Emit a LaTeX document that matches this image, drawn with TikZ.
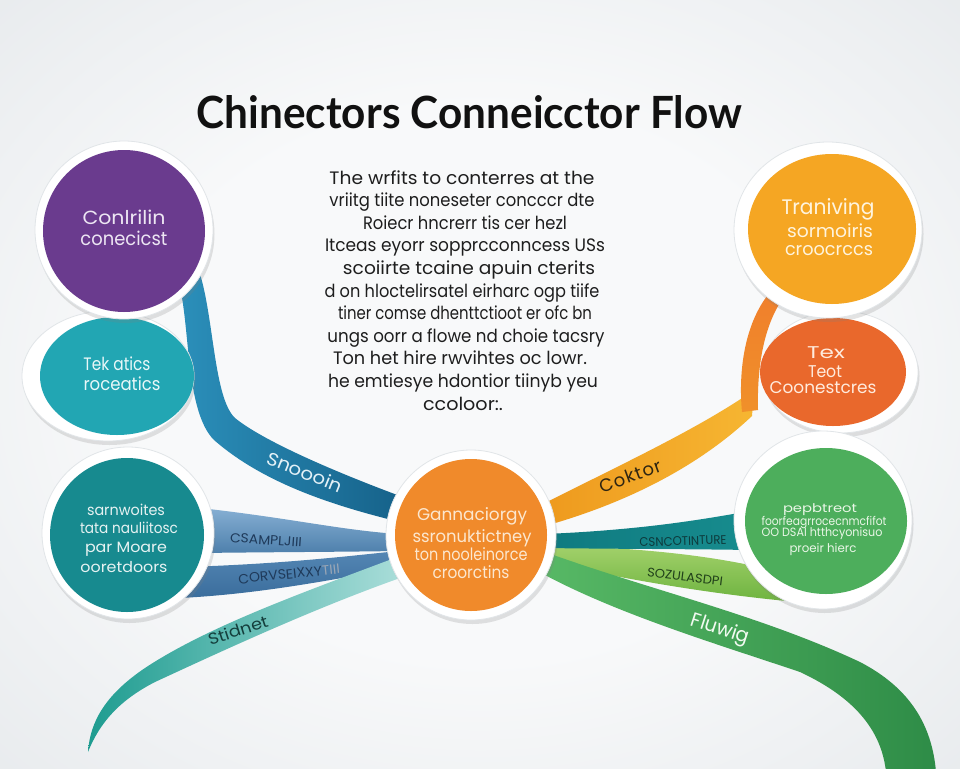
\documentclass[tikz,border=0pt]{standalone}
\usepackage{fontspec}
\usepackage{graphicx}
\setmainfont{Poppins}
\newfontfamily\titlefont{Lato}
\newfontfamily\spacedfont[LetterSpace=6]{Poppins}
\usetikzlibrary{shapes.geometric,shadows}

\definecolor{bgIn}{HTML}{F8F9FA}
\definecolor{bgOut}{HTML}{C6CDD3}
\definecolor{cPurple}{HTML}{6A3B8E}
\definecolor{cTeal}{HTML}{22A6B3}
\definecolor{cDTeal}{HTML}{178A8F}
\definecolor{cOrange}{HTML}{F08A2B}
\definecolor{cGold}{HTML}{F5A623}
\definecolor{cRed}{HTML}{E9682C}
\definecolor{cGreen}{HTML}{4DAE5C}
\definecolor{ribA1}{HTML}{2B8FBA}
\definecolor{ribA2}{HTML}{16628A}
\definecolor{ribB1}{HTML}{86AFD3}
\definecolor{ribB2}{HTML}{4E80AC}
\definecolor{ribC1}{HTML}{5486B4}
\definecolor{ribC2}{HTML}{3A6D9C}
\definecolor{ribD1}{HTML}{1E9C90}
\definecolor{ribD2}{HTML}{A9DDD9}
\definecolor{ribE1}{HTML}{57B865}
\definecolor{ribE2}{HTML}{2E8C47}
\definecolor{ribF1}{HTML}{A3D16B}
\definecolor{ribF2}{HTML}{6DB33F}
\definecolor{ribG1}{HTML}{0F7A80}
\definecolor{ribG2}{HTML}{178C8E}
\definecolor{ribH1}{HTML}{EE9A1E}
\definecolor{ribH2}{HTML}{F6B632}
\definecolor{ribI1}{HTML}{F07F2C}
\definecolor{ribI2}{HTML}{F0902A}
\definecolor{ringEdge}{HTML}{E1E5E8}
\definecolor{bodyText}{HTML}{1E1E1E}
\definecolor{titleC}{HTML}{111111}
\definecolor{tPurple}{HTML}{EDE6F3}
\definecolor{tTeal}{HTML}{E8F7F8}
\definecolor{tDTeal}{HTML}{E6F2F2}
\definecolor{tOrange}{HTML}{FCE7CF}
\definecolor{tGold}{HTML}{FFF4DD}
\definecolor{tRed}{HTML}{FFEBDD}
\definecolor{tGreen}{HTML}{E9F6E6}
\definecolor{lA}{HTML}{E3F1F7}
\definecolor{lB}{HTML}{1F3A5A}
\definecolor{lD}{HTML}{143E3C}
\definecolor{lH}{HTML}{2E2512}
\definecolor{lG}{HTML}{0D3A3C}
\definecolor{lF}{HTML}{20401A}
\definecolor{lE}{HTML}{F1FAF1}

\pgfdeclareradialshading{bgshade}{\pgfpoint{0bp}{0bp}}{color(0bp)=(bgIn); color(18bp)=(bgIn); color(75bp)=(bgOut)}

\newcommand{\fitw}[2]{\resizebox{#1pt}{\height}{#2}}

\begin{document}
\begin{tikzpicture}[x=1pt,y=-1pt,
  ring/.style={fill=white, draw=ringEdge, line width=0.8pt, inner sep=0pt,
    drop shadow={opacity=0.22, shadow xshift=1.5pt, shadow yshift=-4pt}},
  disc/.style={inner sep=0pt, draw=none},
  cline/.style={anchor=base, inner sep=0pt},
  rlabel/.style={inner sep=0pt},
  bodyline/.style={anchor=base, inner sep=0pt, text=bodyText, font=\fontsize{18}{20}\selectfont}]
\useasboundingbox (0,0) rectangle (960,768);
\shade[shading=bgshade] (0,0) rectangle (960,768);

% ---- ribbons ----
\shade[top color=ribC1, bottom color=ribC2] (185,567) .. controls (280,564) and (340,557) .. (398,551) -- (398,568) .. controls (330,580) and (260,594) .. (180,598) -- cycle;
\shade[top color=ribB1, bottom color=ribB2] (200,508) .. controls (290,518) and (340,530) .. (398,534) -- (398,551) .. controls (330,552) and (280,552) .. (200,553) -- cycle;
\shade[left color=ribA1, right color=ribA2] (180,288) .. controls (190,330) and (186,412) .. (214,440) .. controls (262,482) and (330,505) .. (400,522) -- (400,496) .. controls (330,470) and (262,440) .. (235,418) .. controls (214,398) and (214,320) .. (200,274) -- cycle;
\shade[left color=ribD1, right color=ribD2] (400,556) .. controls (310,590) and (210,625) .. (145,668) .. controls (105,695) and (90,722) .. (88,752) .. controls (100,722) and (120,700) .. (155,682) .. controls (220,652) and (310,610) .. (400,578) -- cycle;
\shade[top color=ribF1, bottom color=ribF2] (545,545) .. controls (640,548) and (720,555) .. (790,575) -- (797,602) .. controls (710,594) and (630,580) .. (545,562) -- cycle;
\shade[left color=ribG1, right color=ribG2] (545,534) .. controls (640,530) and (700,520) .. (750,511) -- (750,550) .. controls (690,549) and (620,549) .. (545,548) -- cycle;
\shade[left color=ribE1, right color=ribE2] (545,552) .. controls (650,590) and (760,615) .. (860,662) .. controls (910,688) and (932,725) .. (936,772) -- (886,772) .. controls (882,735) and (860,700) .. (800,672) .. controls (720,645) and (620,615) .. (545,575) -- cycle;
\shade[left color=ribH1, right color=ribH2] (545,526) .. controls (630,502) and (700,465) .. (752,416) -- (754,390) .. controls (700,428) and (620,465) .. (545,503) -- cycle;
\shade[top color=ribI1, bottom color=ribI2] (742,412) .. controls (738,370) and (745,320) .. (772,290) -- (786,294) .. controls (762,325) and (757,372) .. (758,410) -- cycle;

% ---- ribbon labels ----
\node[rlabel, text=lA, rotate=-22, font=\fontsize{18}{18}\selectfont] (labA) at (305,472) {\fitw{80}{Snoooin}};
\node[rlabel, text=lB, rotate=-4, font=\fontsize{13}{13}\selectfont] (labB) at (266,540) {\fitw{72}{CSAMPLJIII}};
\node[rlabel, text=lB, rotate=6, font=\fontsize{13.5}{13.5}\selectfont] (labC) at (289,574) {\fitw{102}{CORVSEIXXY\textcolor{lB!45}{TIII}}};
\node[rlabel, text=lD, rotate=18, font=\fontsize{16}{16}\selectfont] (labD) at (238,630) {\fitw{62}{Stidnet}};
\node[rlabel, text=lH, rotate=20, font=\spacedfont\fontsize{18}{18}\selectfont] (labH) at (630,476) {Coktor};
\node[rlabel, text=lG, rotate=2, font=\fontsize{12.5}{12.5}\selectfont] (labG) at (683,541) {\fitw{87}{CSNCOTINTURE}};
\node[rlabel, text=lF, rotate=-7, font=\fontsize{12.5}{12.5}\selectfont] (labF) at (685,577) {\fitw{76}{SOZULASDPI}};
\node[rlabel, text=lE, rotate=-18, font=\fontsize{20}{20}\selectfont] (labE) at (720,630) {\fitw{60}{Fluwig}};

% ---- circles ----
\node[ring, ellipse, minimum width=172pt, minimum height=130pt] (tRing) at (108,376) {};
\node[disc, ellipse, fill=cTeal, minimum width=154pt, minimum height=118pt] (tDisc) at (117,376) {};
\node[ring, circle, minimum size=178pt] (pRing) at (124,230) {};
\node[disc, circle, fill=cPurple, minimum size=162pt] (pDisc) at (124,231) {};
\node[ring, circle, minimum size=172pt] (bRing) at (128,533) {};
\node[disc, circle, fill=cDTeal, minimum size=154pt] (bDisc) at (127,535) {};
\node[ring, circle, minimum size=170pt] (cRing) at (471,535) {};
\node[disc, circle, fill=cOrange, minimum size=152pt] (cDisc) at (471,535) {};
\node[ring, ellipse, minimum width=156pt, minimum height=122pt] (oRing) at (840,372) {};
\node[disc, ellipse, fill=cRed, minimum width=146pt, minimum height=108pt] (oDisc) at (833,372) {};
\node[ring, ellipse, minimum width=188pt, minimum height=176pt] (yRing) at (828,230) {};
\node[disc, ellipse, fill=cGold, minimum width=168pt, minimum height=150pt] (yDisc) at (832,229) {};
\node[ring, circle, minimum size=178pt] (gRing) at (823,520) {};
\node[disc, ellipse, fill=cGreen, minimum width=162pt, minimum height=146pt] (gDisc) at (826,521) {};

% ---- circle texts ----
\begin{scope}[font=\fontsize{19}{19}\selectfont, text=tPurple]
\node[cline] (p1) at (124,224) {\fitw{83}{Conlrilin}};
\node[cline] (p2) at (124,245) {\fitw{87}{conecicst}};
\end{scope}
\begin{scope}[font=\fontsize{18}{18}\selectfont, text=tTeal]
\node[cline] (t1) at (117,370) {\fitw{67}{Tek atics}};
\node[cline] (t2) at (122,390) {\fitw{77}{roceatics}};
\end{scope}
\begin{scope}[font=\fontsize{15}{15}\selectfont, text=tDTeal]
\node[cline] (b1) at (126,515) {\fitw{78}{sarnwoites}};
\node[cline] (b2) at (129,533) {\fitw{98}{tata nauliitosc}};
\node[cline] (b3) at (126,552) {\fitw{82}{par Moare}};
\node[cline] (b4) at (124,572) {\fitw{87}{ooretdoors}};
\end{scope}
\begin{scope}[font=\fontsize{17}{17}\selectfont, text=tOrange]
\node[cline] (c1) at (472,520) {\fitw{110}{Gannaciorgy}};
\node[cline] (c2) at (472,542) {\fitw{119}{ssronuktictney}};
\node[cline] (c3) at (471,560) {\fitw{113}{ton nooleinorce}};
\node[cline] (c4) at (471,578) {\fitw{77}{croorctins}};
\end{scope}
\begin{scope}[text=tGold]
\node[cline, font=\fontsize{21}{21}\selectfont] (y1) at (828,214) {\fitw{93}{Traniving}};
\node[cline, font=\fontsize{18}{18}\selectfont] (y2) at (830,237) {\fitw{86}{sormoiris}};
\node[cline, font=\fontsize{18}{18}\selectfont] (y3) at (829,255) {\fitw{88}{croocrccs}};
\end{scope}
\begin{scope}[font=\fontsize{17}{17}\selectfont, text=tRed]
\node[cline] (o1) at (826,358) {\fitw{38}{Tex}};
\node[cline] (o2) at (825,377) {\fitw{34}{Teot}};
\node[cline] (o3) at (823,393) {\fitw{107}{Coonestcres}};
\end{scope}
\begin{scope}[font=\fontsize{12}{12}\selectfont, text=tGreen]
\node[cline] (g1) at (820,512) {\fitw{74}{pepbtreot}};
\node[cline] (g2) at (824,525) {\fitw{125}{foorfeagrrocecnmcfifot}};
\node[cline] (g3) at (822,536) {\fitw{121}{OO DSAI htthcyonisuo}};
\node[cline] (g4) at (823,552) {\fitw{67}{proeir hierc}};
\end{scope}

% ---- title and body ----
\node[anchor=base, inner sep=0pt, text=titleC] (title) at (469.5,128) {\resizebox{545pt}{33pt}{\titlefont\bfseries Chinectors Conneicctor Flow}};
\foreach \cx/\ww/\txt [count=\i] in {
  462/265/The wrfits to conterres at the,
  462/265/vriitg tiite noneseter concccr dte,
  465/204/Roiecr hncrerr tis cer hezl,
  465/280/Itceas eyorr sopprcconncess USs,
  469/252/scoiirte tcaine apuin cterits,
  462/275/d on hloctelirsatel eirharc ogp tiife,
  465/254/tiner comse dhenttctioot er ofc bn,
  466/277/ungs oorr a flowe nd choie tacsry,
  460/254/Ton het hire rwvihtes oc lowr.,
  463/270/he emtiesye hdontior tiinyb yeu,
  463/80/ccoloor:.}
  \node[bodyline] (body\i) at (\cx,{184+22.6*(\i-1)}) {\fitw{\ww}{\txt}};
\end{tikzpicture}
\end{document}
